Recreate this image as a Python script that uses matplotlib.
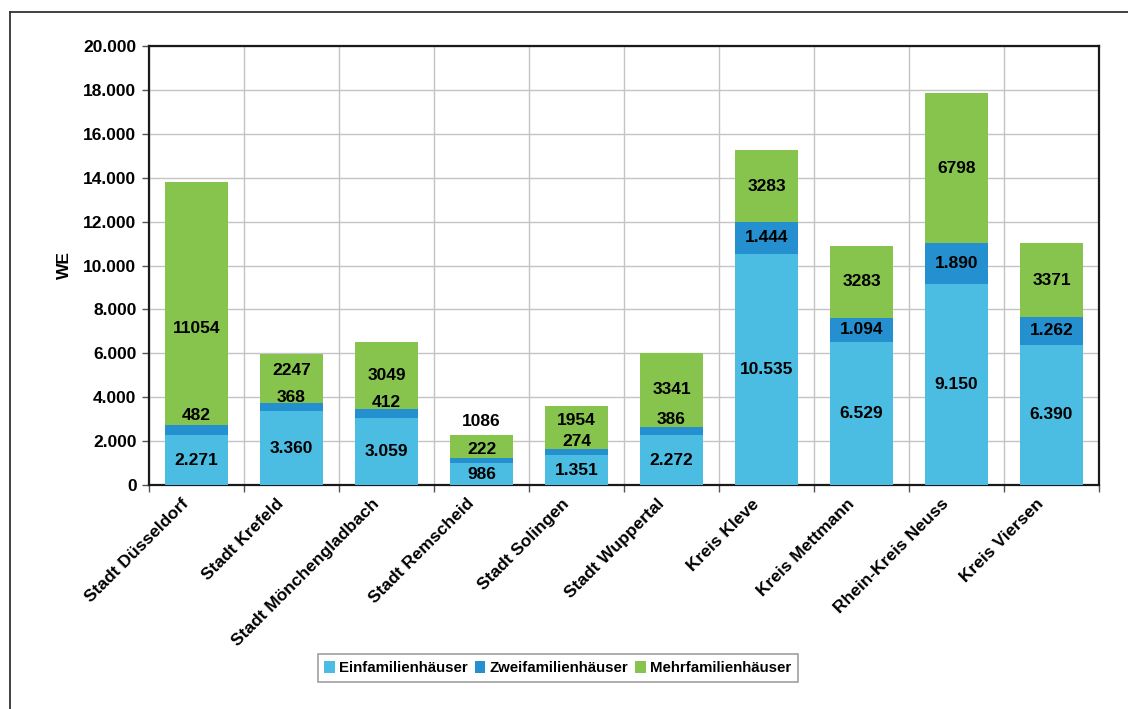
import matplotlib
matplotlib.use("Agg")
import matplotlib.pyplot as plt
from matplotlib.ticker import FuncFormatter, MultipleLocator, FixedLocator
from matplotlib.lines import Line2D

plt.rcParams['font.family'] = ['Liberation Sans', 'DejaVu Sans']
plt.rcParams['font.weight'] = 'bold'

# data
regions = ['Stadt Düsseldorf', 'Stadt Krefeld', 'Stadt Mönchengladbach', 'Stadt Remscheid',
           'Stadt Solingen', 'Stadt Wuppertal', 'Kreis Kleve', 'Kreis Mettmann',
           'Rhein-Kreis Neuss', 'Kreis Viersen']
efh = [2271, 3360, 3059, 986, 1351, 2272, 10535, 6529, 9150, 6390]
zfh = [482, 368, 412, 222, 274, 386, 1444, 1094, 1890, 1262]
mfh = [11054, 2247, 3049, 1086, 1954, 3341, 3283, 3283, 6798, 3371]
series_names = ['Einfamilienhäuser', 'Zweifamilienhäuser', 'Mehrfamilienhäuser']

colors = ['#4bbde3', '#2490d0', '#86c44e']

# manual label nudges (pixels, positive = up), like the hand-moved labels in the original
zfh_nudge = [14, 10, 11, 11, 11, 11, 0, 0, 0, 0]
mfh_nudge = [-25, 8, 0, 25, 7, 0, 0, 0, 0, 0]


def de(v):
    return f"{v:,.0f}".replace(',', '.')


fig = plt.figure(figsize=(11.28, 7.09), dpi=100)
ax = fig.add_axes([149 / 1128, 1 - 485 / 709, 950 / 1128, 439 / 709])

x = list(range(len(regions)))
w = 0.66
bottom2 = efh
bottom3 = [a + b for a, b in zip(efh, zfh)]
b1 = ax.bar(x, efh, w, color=colors[0], label=series_names[0], zorder=3)
b2 = ax.bar(x, zfh, w, bottom=bottom2, color=colors[1], label=series_names[1], zorder=3)
b3 = ax.bar(x, mfh, w, bottom=bottom3, color=colors[2], label=series_names[2], zorder=3)

fs = 12.5
for i in x:
    ax.annotate(de(efh[i]), (i, efh[i] / 2), ha='center', va='center',
                fontsize=fs, fontweight='bold', zorder=5)
    ax.annotate(de(zfh[i]), (i, bottom2[i] + zfh[i] / 2), xytext=(0, zfh_nudge[i]),
                textcoords='offset pixels', ha='center', va='center',
                fontsize=fs, fontweight='bold', zorder=5)
    ax.annotate(str(mfh[i]), (i, bottom3[i] + mfh[i] / 2), xytext=(0, mfh_nudge[i]),
                textcoords='offset pixels', ha='center', va='center',
                fontsize=fs, fontweight='bold', zorder=5)

ax.set_xlim(-0.5, len(regions) - 0.5)
ax.set_ylim(0, 20000)
ax.yaxis.set_major_locator(MultipleLocator(2000))
ax.yaxis.set_major_formatter(FuncFormatter(lambda v, p: de(v)))
# category labels sit a little left of the bar centre, as in the original
ax.set_xticks([i - 0.16 for i in x])
ax.set_xticklabels(regions, rotation=45, ha='right', rotation_mode='anchor',
                   fontsize=12.5, fontweight='bold')
ax.xaxis.set_minor_locator(FixedLocator([i - 0.5 for i in range(len(regions) + 1)]))
ax.tick_params(axis='x', which='major', length=0, pad=8)
ax.tick_params(axis='x', which='minor', length=5, width=1, color='#555555')
ax.tick_params(axis='y', length=5, width=1, color='#555555', labelsize=12.5, pad=4)
for lab in ax.get_yticklabels():
    lab.set_fontweight('bold')

ax.grid(axis='y', which='major', color='#c4c4c4', linewidth=1, zorder=0)
ax.grid(axis='x', which='minor', color='#c4c4c4', linewidth=1, zorder=0)
for s in ax.spines.values():
    s.set_linewidth(1.6)
    s.set_color('#1a1a1a')

ax.set_ylabel('WE', fontsize=12.5, fontweight='bold', labelpad=8)

leg = fig.legend(handles=[b1, b2, b3], loc='center', bbox_to_anchor=(558 / 1128, 1 - 668 / 709),
                 ncol=3, frameon=True, fancybox=False, handlelength=0.7,
                 handleheight=0.9, handletextpad=0.3, columnspacing=0.45, borderpad=0.45,
                 borderaxespad=0, prop={'weight': 'bold', 'size': 10.8})
leg.get_frame().set_edgecolor('#888888')
leg.get_frame().set_linewidth(1.2)

# outer frame of the original picture
fig.add_artist(Line2D([10 / 1128, 1.0], [1 - 12 / 709, 1 - 12 / 709], color='#333333', linewidth=1.3))
fig.add_artist(Line2D([10 / 1128, 10 / 1128], [0, 1 - 12 / 709], color='#333333', linewidth=1.3))

fig.savefig('out.png', dpi=100)
